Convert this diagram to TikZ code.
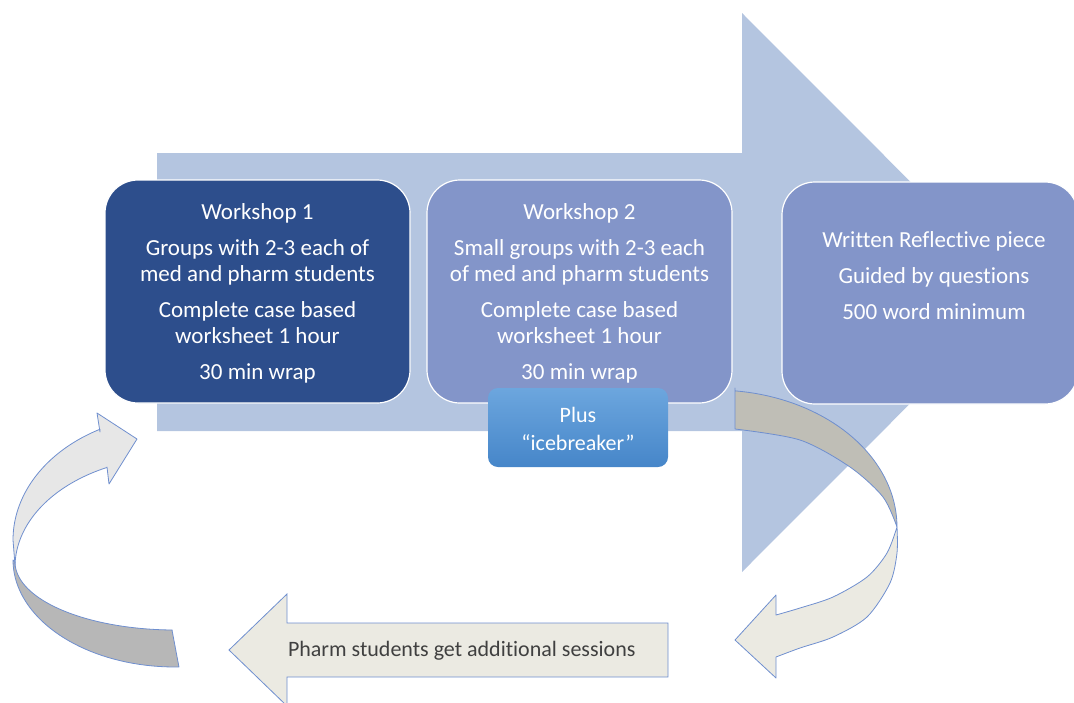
\documentclass[tikz,border=0pt]{standalone}
\usepackage{fontspec}
\setmainfont{Carlito}[Ligatures=NoCommon]
\definecolor{flow}{HTML}{B4C5E0}
\definecolor{wsdark}{HTML}{2D4E8C}
\definecolor{wsmid}{HTML}{8395C9}
\definecolor{icetop}{HTML}{6CA6DE}
\definecolor{icebot}{HTML}{4686C9}
\definecolor{edgeblue}{HTML}{6F8FCF}
\definecolor{paper}{HTML}{EBEAE2}
\definecolor{backtan}{HTML}{BFBEB6}
\definecolor{backgray}{HTML}{B7B7B7}
\definecolor{frontgray}{HTML}{E7E7E7}
\definecolor{ink}{HTML}{404040}
\begin{document}
\begin{tikzpicture}[x=1pt,y=-1pt,
  every node/.style={inner sep=0pt, outer sep=0pt},
  txt/.style={align=center, text=white, font=\fontsize{23}{26}\selectfont},
  wsbox/.style={draw=white, line width=1.2pt, rounded corners=33pt},
  curved/.style={draw=edgeblue, line width=0.8pt, line join=round},
]
\useasboundingbox (0,0) rectangle (1074,702);

% main process arrow
\fill[flow] (157,153) -- (742,153) -- (742,13) -- (1021,292.5)
  -- (742,572) -- (742,431) -- (157,431) -- cycle;

% three stages
\node[wsbox, fill=wsdark, minimum width=305pt, minimum height=223pt] (ws1) at (257.5,291.5) {};
\node[txt] (ws1text) at (257.5,293) {Workshop 1\\[10pt]Groups with 2-3 each of\\med and pharm students\\[10pt]Complete case based\\worksheet 1 hour\\[10pt]30 min wrap};

\node[wsbox, fill=wsmid, minimum width=305pt, minimum height=223pt] (ws2) at (579.5,291.5) {};
\node[txt] (ws2text) at (579.5,293) {Workshop 2\\[10pt]Small groups with 2-3 each\\of med and pharm students\\[10pt]Complete case based\\worksheet 1 hour\\[10pt]30 min wrap};

\node[wsbox, fill=wsmid, minimum width=296pt, minimum height=222pt] (refl) at (930,293) {};
\node[txt] (refltext) at (934,275.5) {Written Reflective piece\\[10pt]Guided by questions\\[10pt]500 word minimum};

% curved arrow from the reflective piece down to the extra sessions
\filldraw[curved, fill=backtan] (735,429) -- (735,388)
  -- plot[domain=-83.7:0, samples=40] ({715+182*cos(\x)},{527+137*sin(\x)})
  -- plot[smooth] coordinates {(897,527) (883,497) (850,467) (800,440) (735,429)}
  -- cycle;
\filldraw[curved, fill=paper] (897,527)
  -- plot[smooth] coordinates {(897,527) (897,553) (890,583) (867,617) (833,637) (800,648) (776,657)}
  -- (776,678) -- (735,640) -- (776,595) -- (776,615)
  -- plot[smooth] coordinates {(776,615) (800,608) (833,597) (867,577) (887,553) (897,527)}
  -- cycle;

% additional sessions
\filldraw[draw=edgeblue, line width=0.8pt, fill=paper] (668,623) -- (287,623) -- (287,594)
  -- (229,650) -- (287,706) -- (287,677) -- (668,677) -- cycle;
\node[anchor=west, text=ink, font=\fontsize{22}{26}\selectfont] (extra) at (288,651) {Pharm students get additional sessions};

% curved arrow back to the first workshop
\filldraw[curved, fill=backgray] (13,560)
  -- plot[domain=180:88.6, samples=40] ({175+162*cos(\x)},{560+107*sin(\x)})
  -- (172,630)
  -- plot[domain=91:180, samples=40] ({175+160*cos(\x)},{562+68*sin(\x)})
  -- cycle;
\filldraw[curved, fill=frontgray] (107,467) -- (109,484) -- (137,439) -- (97,413) -- (100,432)
  -- plot[domain=-117.6:-180, samples=40] ({175+162*cos(\x)},{540+125*sin(\x)})
  -- (15,565)
  -- plot[domain=180:244.8, samples=40] ({175+160*cos(\x)},{567+110*sin(\x)})
  -- cycle;

% icebreaker tag
\node[top color=icetop, bottom color=icebot, rounded corners=10pt,
  minimum width=180pt, minimum height=79pt] (ice) at (578,427.5) {};
\node[align=center, text=white, font=\fontsize{22}{28}\selectfont] (icetext) at (578,429) {Plus\\“icebreaker”};
\end{tikzpicture}
\end{document}
